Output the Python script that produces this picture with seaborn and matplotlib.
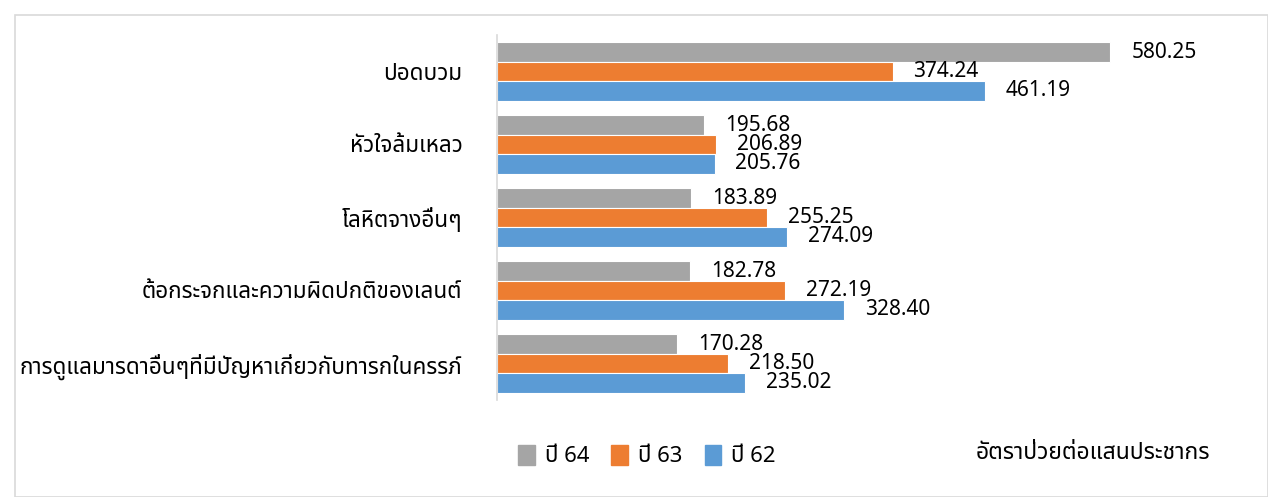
import matplotlib
matplotlib.use("Agg")
import matplotlib.pyplot as plt
import matplotlib.patches as mpatches
import seaborn as sns
import pandas as pd

# data
diseases = ['ปอดบวม', 'หัวใจล้มเหลว', 'โลหิตจางอื่นๆ',
            'ต้อกระจกและความผิดปกติของเลนต์',
            'การดูแลมารดาอื่นๆที่มีปัญหาเกี่ยวกับทารกในครรภ์']
years = ['ปี 64', 'ปี 63', 'ปี 62']
y64 = [580.25, 195.68, 183.89, 182.78, 170.28]
y63 = [374.24, 206.89, 255.25, 272.19, 218.50]
y62 = [461.19, 205.76, 274.09, 328.40, 235.02]
colors = ['#A5A5A5', '#ED7D31', '#5B9BD5']
xlabel = 'อัตราป่วยต่อแสนประชากร'

df = pd.DataFrame({
    'disease': diseases * 3,
    'year': [years[0]] * 5 + [years[1]] * 5 + [years[2]] * 5,
    'rate': y64 + y63 + y62,
})

sns.set_theme(style='white')
plt.rcParams['font.family'] = ['Noto Sans Thai', 'Loma', 'Garuda', 'Noto Sans', 'DejaVu Sans']
plt.rcParams['text.color'] = 'black'
plt.rcParams['ytick.color'] = 'black'

fig = plt.figure(figsize=(12.68, 4.97), dpi=100)
ax = fig.add_axes([497 / 1268, 1 - 400 / 497, 740 / 1268, 365 / 497])

sns.barplot(data=df, y='disease', x='rate', hue='year', hue_order=years,
            order=diseases, palette=colors, saturation=1, orient='h', width=0.8,
            edgecolor='white', linewidth=0.8, legend=False, ax=ax)

for cont in ax.containers:
    ax.bar_label(cont, fmt='%.2f', padding=15, fontsize=15, color='black')

ax.set_xlim(0, 700)
ax.set_ylim(4.5, -0.5)
ax.set_xlabel('')
ax.set_ylabel('')
ax.set_xticks([])
ax.tick_params(axis='y', length=0, pad=25, labelsize=16.2)
for s in ['top', 'right', 'bottom']:
    ax.spines[s].set_visible(False)
ax.spines['left'].set_color('#D9D9D9')
ax.spines['left'].set_linewidth(1.2)

# legend along the bottom
handles = [mpatches.Patch(color=c, label=y) for c, y in zip(colors, years)]
fig.legend(handles=handles, loc='center left', bbox_to_anchor=(498 / 1268, 1 - 456 / 497),
           ncol=3, frameon=False, fontsize=16, handlelength=0.75, handleheight=1.0,
           handletextpad=0.45, columnspacing=1.0)
fig.text(1210 / 1268, 1 - 453 / 497, xlabel, ha='right', va='center', fontsize=16.5)

# light frame around the chart
fig.patches.append(mpatches.Rectangle((15 / 1268, 0), 1 - 15 / 1268, 1 - 15 / 497,
                                      transform=fig.transFigure, fill=False,
                                      edgecolor='#D9D9D9', linewidth=1.2))

fig.savefig('out.png', dpi=100)
